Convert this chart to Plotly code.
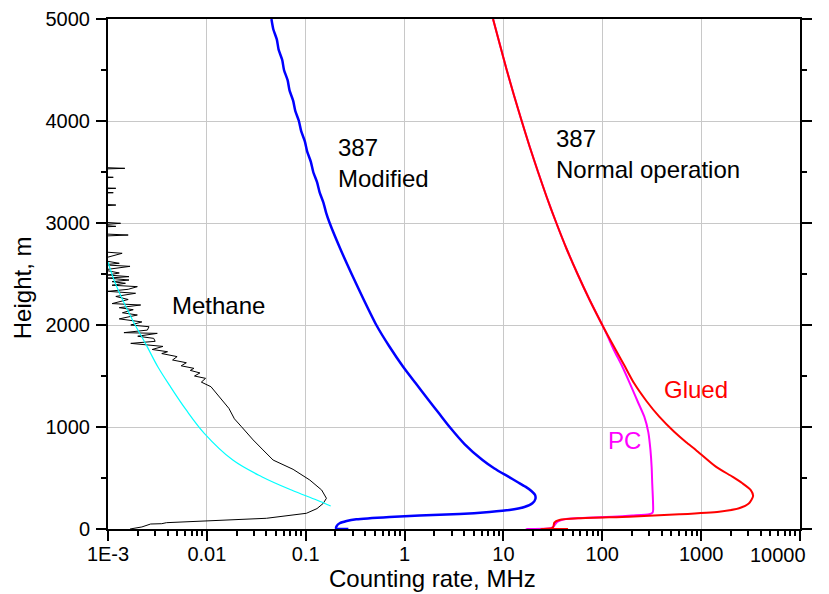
import plotly.graph_objects as go

# ---------------- data ----------------
# 387 Modified (blue)
mod_h = [5000, 4900, 4800, 4700, 4600, 4500, 4400, 4300, 4200, 4100, 4000, 3900, 3800, 3700,
         3600, 3500, 3400, 3300, 3200, 3100, 3000, 2750, 2500, 2250, 2000, 1794, 1591, 1431,
         1265, 1127, 990, 833, 676, 593, 513, 461, 415, 373, 333, 294, 252, 216, 186, 167,
         147, 132, 118, 95, 78, 56, 29, 5, 0]
mod_x = [0.0450, 0.0470, 0.0510, 0.0532, 0.0578, 0.0603, 0.0656, 0.0686, 0.0746, 0.0784,
         0.0853, 0.0900, 0.0980, 0.1035, 0.1127, 0.1192, 0.1302, 0.1383, 0.1510, 0.1610,
         0.1747, 0.2231, 0.2914, 0.3854, 0.5177, 0.697, 0.966, 1.291, 1.747, 2.257, 2.915,
         4.04, 6.14, 8.11, 11.23, 13.85, 16.68, 19.18, 20.9, 21.05, 19.63, 16.3, 11.5, 7.22,
         3.59, 1.417, 0.706, 0.325, 0.2595, 0.2204, 0.2056, 0.2033, 0.27]

# 387 Normal operation - Glued (red)
glued_h = [0, 0, 8, 23, 62, 88, 105, 121, 144, 170, 203, 252, 323, 382, 448, 513, 611, 775,
           850, 950, 1101, 1250, 1428, 1600, 1755, 1900, 2000, 2250, 2500, 2750, 3000, 3250,
           3500, 3750, 4000, 4250, 4500, 4750, 5000]
glued_x = [45, 24, 31, 32.0, 32.7, 36.8, 58.6, 187, 600, 1520, 2420, 3053, 3353, 3177, 2613,
           2071, 1408, 884, 705, 537, 377, 282, 210, 168, 137, 113.5, 100, 74.1, 56.2, 43.4,
           34.3, 27.5, 22.4, 18.4, 15.3, 12.8, 10.8, 9.2, 7.85]

# 387 Normal operation - PC (magenta)
pc_h = [0, 0, 8, 23, 40, 70, 98, 110, 121, 132, 144, 160, 186, 300, 448, 600, 775, 950,
        1101, 1250, 1428, 1600, 1755, 1900, 2000, 2250, 2500, 2750, 3000, 3250, 3500, 3750,
        4000, 4250, 4500, 4750, 5000]
pc_x = [45, 17, 30, 32, 33, 35, 43, 70, 127, 200, 299, 323, 327, 325, 320, 316, 307, 292,
        266, 228, 190, 158, 131, 112, 100, 74.1, 56.2, 43.4, 34.3, 27.5, 22.4, 18.4, 15.3,
        12.8, 10.8, 9.2, 7.85]

# Methane (black)
meth_h = [0, 20, 49, 52, 62, 78, 105, 154, 200, 250, 301, 382, 480, 585, 676, 775, 873, 1003,
          1080, 1183, 1265, 1330, 1395, 1440, 1477, 1500, 1530, 1555, 1575, 1600, 1630, 1657,
          1690, 1720, 1738, 1760, 1790, 1820, 1840, 1869, 1890, 1918, 1925, 1950, 1983, 2000,
          2030, 2060, 2098, 2120, 2150, 2170, 2196, 2210, 2250, 2280, 2311, 2330, 2350, 2376,
          2390, 2409, 2425, 2441, 2460, 2474, 2490, 2510, 2540, 2575, 2590, 2605, 2640, 2703,
          2720, 2870, 2882, 2895, 2960, 2967, 2980, 2997, 3010, 3165, 3176, 3187, 3290, 3297,
          3305, 3333, 3340, 3347, 3440, 3448, 3456, 3528, 3536, 3545]
meth_x = [0.00167, 0.0022, 0.0027, 0.0035, 0.0039, 0.0099, 0.040, 0.1016, 0.13, 0.150, 0.162,
          0.145, 0.11, 0.0745, 0.0468, 0.037, 0.0294, 0.0224, 0.0190, 0.0167, 0.0143, 0.0127,
          0.011, 0.0088, 0.0097, 0.0075, 0.0085, 0.0068, 0.0074, 0.0055, 0.0062, 0.0045,
          0.0050, 0.0035, 0.0040, 0.0028, 0.0036, 0.0017, 0.0030, 0.0029, 0.0020, 0.00315,
          0.00145, 0.0025, 0.0026, 0.0017, 0.0022, 0.0013, 0.00198, 0.0014, 0.0018, 0.0013,
          0.00214, 0.0011, 0.0016, 0.0012, 0.0019, 0.0010, 0.0016, 0.00198, 0.0011, 0.0015,
          0.0011, 0.00163, 0.0010, 0.00163, 0.0010, 0.0013, 0.0009, 0.00167, 0.0009, 0.0013,
          0.0008, 0.00139, 0.0008, 0.0008, 0.0016, 0.0008, 0.0008, 0.0012, 0.0008, 0.00134,
          0.0008, 0.0008, 0.0012, 0.0008, 0.0008, 0.00113, 0.0008, 0.0008, 0.0012, 0.0008,
          0.0008, 0.00113, 0.0008, 0.0008, 0.00148, 0.0008]

# Methane fit (cyan)
fit_h = [2618, 2441, 2200, 2017, 1800, 1591, 1400, 1167, 938, 676, 513, 382, 284, 225]
fit_x = [0.001, 0.00115, 0.00148, 0.00184, 0.00245, 0.00319, 0.00425, 0.00618, 0.00942,
         0.0183, 0.0359, 0.0718, 0.129, 0.179]

x_tickvals = [0.001, 0.01, 0.1, 1, 10, 100, 1000, 10000]
# the last label is drawn as an annotation, shifted left so it stays inside the page
x_ticktext = ["1E-3", "0.01", "0.1", "1", "10", "100", "1000", ""]
last_tick_label = "10000"
x_minor = [m * d for d in [0.001, 0.01, 0.1, 1, 10, 100, 1000] for m in range(2, 10)]

FONT = "Liberation Sans, Arial, sans-serif"

fig = go.Figure()
fig.add_trace(go.Scatter(x=meth_x, y=meth_h, mode="lines",
                         line=dict(color="black", width=1)))
fig.add_trace(go.Scatter(x=fit_x, y=fit_h, mode="lines",
                         line=dict(color="#00ffff", width=1.2, shape="spline")))
fig.add_trace(go.Scatter(x=mod_x, y=mod_h, mode="lines",
                         line=dict(color="#0000ff", width=2.5, shape="spline", smoothing=0.6)))
fig.add_trace(go.Scatter(x=pc_x, y=pc_h, mode="lines",
                         line=dict(color="#ff00ff", width=2, shape="spline", smoothing=0.6)))
fig.add_trace(go.Scatter(x=glued_x, y=glued_h, mode="lines",
                         line=dict(color="#ff0000", width=2, shape="spline", smoothing=0.6)))

ann_font = dict(family=FONT, size=24, color="black")
annotations = [
    dict(x=-1.879, y=2196, xref="x", yref="y", text="Methane", showarrow=False,
         font=ann_font, xanchor="center", yanchor="middle"),
    dict(x=-0.697, y=3588, xref="x", yref="y", text="387<br>Modified", showarrow=False,
         font=ann_font, xanchor="left", yanchor="middle", align="left"),
    dict(x=1.515, y=3676, xref="x", yref="y", text="387<br>Normal operation", showarrow=False,
         font=ann_font, xanchor="left", yanchor="middle", align="left"),
    dict(x=2.949, y=1363, xref="x", yref="y", text="Glued", showarrow=False,
         font=dict(family=FONT, size=24, color="#ff0000"), xanchor="center", yanchor="middle"),
    dict(x=2.222, y=863, xref="x", yref="y", text="PC", showarrow=False,
         font=dict(family=FONT, size=24, color="#ff00ff"), xanchor="center", yanchor="middle"),
    dict(x=0.469, y=-0.098, xref="paper", yref="paper", text="Counting rate, MHz",
         showarrow=False, font=ann_font, xanchor="center", yanchor="middle"),
    dict(x=-0.124, y=0.4725, xref="paper", yref="paper", text="Height, m", textangle=-90,
         showarrow=False, font=ann_font, xanchor="center", yanchor="middle"),
    dict(x=1.0, xshift=8, y=-0.051, xref="paper", yref="paper", text=last_tick_label,
         showarrow=False, font=dict(family=FONT, size=20, color="black"),
         xanchor="right", yanchor="middle"),
]

# the page body adds an 8 px margin, so the figure is sized to fit the 829x594 window
fig.update_layout(
    width=821, height=586,
    margin=dict(l=100, r=29, t=11, b=65, autoexpand=False),
    paper_bgcolor="white", plot_bgcolor="white",
    showlegend=False,
    font=dict(family=FONT, size=20, color="black"),
    annotations=annotations,
    xaxis=dict(type="log", range=[-3, 4], tickmode="array", tickvals=x_tickvals,
               ticktext=x_ticktext, ticks="outside", ticklen=10, tickwidth=2,
               tickcolor="black", showline=True, linecolor="black", linewidth=2,
               mirror=True, showgrid=True, gridcolor="#c8c8c8", gridwidth=1,
               zeroline=False, ticklabelstandoff=-4, automargin=False,
               ticklabeloverflow="allow",
               minor=dict(tickmode="array", tickvals=x_minor, ticks="outside", ticklen=5,
                          tickwidth=1.5, tickcolor="black", showgrid=False)),
    yaxis=dict(range=[0, 5000], tickmode="linear", tick0=0, dtick=1000, ticks="outside",
               ticklen=10, tickwidth=2, tickcolor="black", showline=True, linecolor="black",
               linewidth=2, mirror="ticks", showgrid=True, gridcolor="#c8c8c8", gridwidth=1,
               zeroline=False, ticklabelstandoff=2, automargin=False,
               ticklabeloverflow="allow",
               minor=dict(dtick=500, ticks="outside", ticklen=5, tickwidth=2,
                          tickcolor="black", showgrid=False)),
)

fig.write_html("out.html")
